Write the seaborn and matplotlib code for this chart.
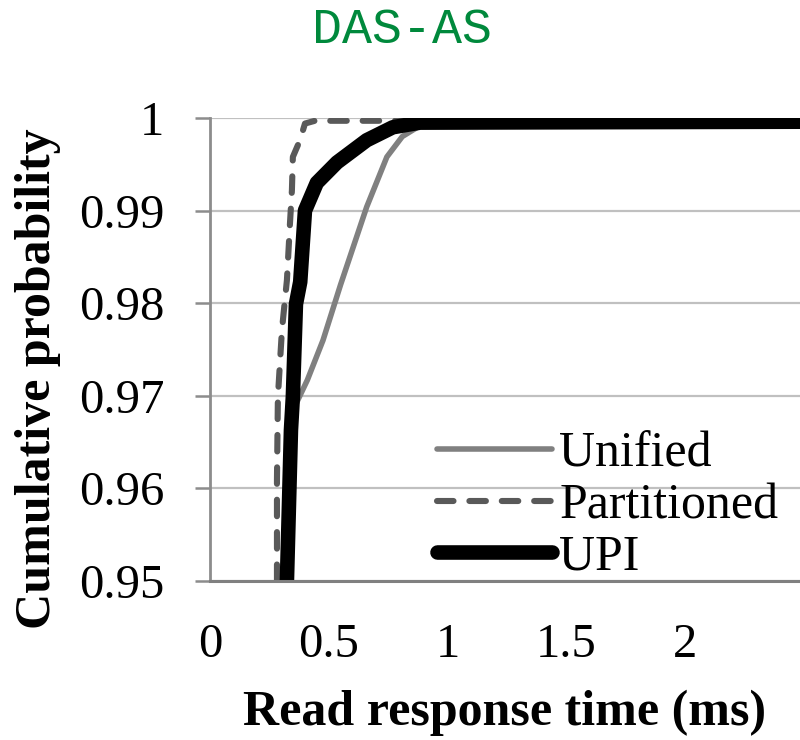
import matplotlib
matplotlib.use("Agg")
import matplotlib.pyplot as plt
import seaborn as sns

# ---- data ----
unified_x = [0.32, 0.335, 0.36, 0.41, 0.476, 0.55, 0.66, 0.745, 0.81, 0.88, 1.0, 2.5]
unified_y = [0.95, 0.965, 0.969, 0.9717, 0.976, 0.982, 0.9904, 0.9958, 0.998, 0.9991, 0.9995, 0.9996]

partitioned_x = [0.282, 0.282, 0.286, 0.303, 0.324, 0.337, 0.345, 0.349, 0.379, 0.40, 0.442, 2.5]
partitioned_y = [0.95, 0.9609, 0.9699, 0.9771, 0.9825, 0.9887, 0.9922, 0.9958, 0.9976, 0.9994, 0.9997, 0.9997]

upi_x = [0.324, 0.341, 0.349, 0.362, 0.38, 0.40, 0.45, 0.535, 0.66, 0.77, 0.884, 2.5]
upi_y = [0.95, 0.9663, 0.9699, 0.9799, 0.9823, 0.990, 0.993, 0.9952, 0.9976, 0.999, 0.9995, 0.9996]

series_names = ["Unified", "Partitioned", "UPI"]
x_ticks = [0, 0.5, 1, 1.5, 2]
x_tick_labels = ["0", "0.5", "1", "1.5", "2"]
y_ticks = [0.95, 0.96, 0.97, 0.98, 0.99, 1.0]
y_tick_labels = ["0.95", "0.96", "0.97", "0.98", "0.99", "1"]

title_text = "DAS-AS"
x_label = "Read response time (ms)"
y_label = "Cumulative probability"

# ---- styling ----
sns.set_theme(style="white")
plt.rcParams['font.family'] = ['Liberation Serif', 'DejaVu Serif']
plt.rcParams['text.color'] = 'black'
plt.rcParams['axes.labelcolor'] = 'black'
plt.rcParams['xtick.color'] = 'black'
plt.rcParams['ytick.color'] = 'black'

fig = plt.figure(figsize=(8, 7.4), dpi=100)
W, H = 800, 740
left, right, top, bottom = 210, 800, 118, 581
ax = fig.add_axes([left / W, 1 - bottom / H, (right - left) / W, (bottom - top) / H])

sns.lineplot(x=unified_x, y=unified_y, sort=False, estimator=None, ax=ax,
             color="#808080", linewidth=4.0, label=series_names[0])
l1 = ax.lines[-1]
l1.set_linewidth(4.0)
l1.set_solid_capstyle("round")

sns.lineplot(x=partitioned_x, y=partitioned_y, sort=False, estimator=None, ax=ax,
             color="#595959", linewidth=4.4, label=series_names[1])
l2 = ax.lines[-1]
l2.set_linewidth(4.4)
l2.set_dashes([2.7, 2.6])
l2.set_dash_capstyle("round")

sns.lineplot(x=upi_x, y=upi_y, sort=False, estimator=None, ax=ax,
             color="black", linewidth=10.5, label=series_names[2])
l3 = ax.lines[-1]
l3.set_linewidth(10.5)
l3.set_solid_capstyle("round")

ax.set_xlim(0, 2.485)
ax.set_ylim(0.95, 1.0)
ax.set_xticks(x_ticks)
ax.set_xticklabels(x_tick_labels)
ax.set_yticks(y_ticks)
ax.set_yticklabels(y_tick_labels)

ax.grid(False)
ax.yaxis.grid(True, color="#C0C0C0", lw=1.6)
ax.set_axisbelow(True)

for s in ["top", "right"]:
    ax.spines[s].set_visible(False)
ax.spines["left"].set_color("#8C8C8C")
ax.spines["left"].set_linewidth(2.0)
ax.spines["bottom"].set_color("#808080")
ax.spines["bottom"].set_linewidth(2.2)

ax.tick_params(axis="y", which="major", direction="out", length=11, width=1.8,
               color="#8C8C8C", labelcolor="black", pad=22, labelsize=35, left=True)
ax.tick_params(axis="x", which="major", length=0, pad=30, labelsize=35,
               labelcolor="black", bottom=False)

ax.set_xlabel(x_label, fontsize=36, fontweight="bold", va="center", color="black")
ax.xaxis.set_label_coords(0.5, 1 - (713 - top) / (bottom - top))
ax.set_ylabel(y_label, fontsize=36, fontweight="bold", va="center", color="black")
ax.yaxis.set_label_coords((38 - left) / (right - left), 1 - (379 - top) / (bottom - top))

leg = ax.legend(loc="center left", bbox_to_anchor=((437 - left) / (right - left), 1 - (506 - top) / (bottom - top)),
                frameon=False, fontsize=36, handlelength=2.3, handletextpad=0.15,
                labelspacing=0.1, borderpad=0, borderaxespad=0)
for t in leg.get_texts():
    t.set_color("black")

fig.text(402 / W, 1 - 30 / H, title_text, color="#00893C", fontsize=36,
         family=["Liberation Mono", "DejaVu Sans Mono"], ha="center", va="center")

fig.savefig("out.png", dpi=100)
